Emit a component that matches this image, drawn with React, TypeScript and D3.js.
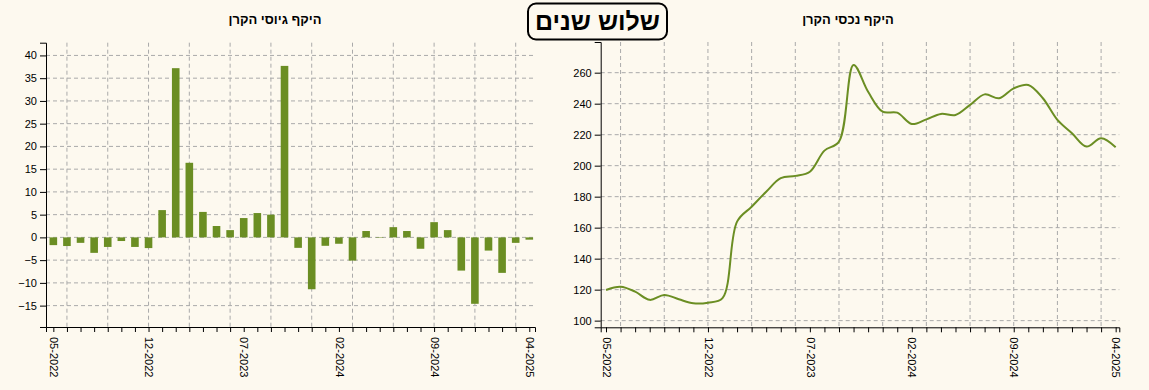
import React, { useEffect, useRef } from "react";
import * as d3 from "d3";

// months shown on both charts (05-2022 .. 04-2025)
const months = [
  "05-2022", "06-2022", "07-2022", "08-2022", "09-2022", "10-2022", "11-2022", "12-2022",
  "01-2023", "02-2023", "03-2023", "04-2023", "05-2023", "06-2023", "07-2023", "08-2023",
  "09-2023", "10-2023", "11-2023", "12-2023", "01-2024", "02-2024", "03-2024", "04-2024",
  "05-2024", "06-2024", "07-2024", "08-2024", "09-2024", "10-2024", "11-2024", "12-2024",
  "01-2025", "02-2025", "03-2025", "04-2025",
];

// fund raising (left, bars)
const raising = [
  -1.7, -1.9, -1.2, -3.4, -2.1, -0.8, -2.1, -2.35,
  6.0, 37.2, 16.4, 5.6, 2.5, 1.6, 4.25, 5.35,
  5.0, 37.7, -2.3, -11.4, -1.85, -1.4, -5.1, 1.4,
  -0.1, 2.25, 1.4, -2.5, 3.35, 1.6, -7.3, -14.6,
  -2.9, -7.8, -1.2, -0.5,
];

// fund assets (right, line)
const assets = [
  119.8, 121.9, 118.7, 113.4, 116.6, 113.8, 111.2, 111.6,
  114.5, 163.9, 173.5, 183.2, 191.9, 193.4, 196.1, 209.7,
  215.5, 265.0, 247.7, 234.8, 234.2, 226.9, 229.9, 233.4,
  232.7, 239.2, 246.0, 243.5, 249.9, 252.1, 243.5, 229.5,
  220.9, 212.3, 217.7, 211.9,
];

const BG = "#fdf9ef";
const GREEN = "#6b8e23";
const GRID = "#aaa";
const FONT = "'Liberation Sans', Arial, sans-serif";

function drawFrame(
  g: d3.Selection<SVGGElement, unknown, null, undefined>,
  x: d3.ScaleLinear<number, number>,
  y: d3.ScaleLinear<number, number>,
  width: number,
  height: number
) {
  const idx = months.map((_, i) => i);

  // grid
  g.append("g")
    .selectAll("line")
    .data(y.ticks(10))
    .enter()
    .append("line")
    .attr("x1", 0)
    .attr("x2", width)
    .attr("y1", d => y(d))
    .attr("y2", d => y(d))
    .attr("stroke", GRID)
    .attr("stroke-dasharray", "4,3");

  g.append("g")
    .selectAll("line")
    .data(idx.filter(i => i % 3 === 1))
    .enter()
    .append("line")
    .attr("x1", d => x(d))
    .attr("x2", d => x(d))
    .attr("y1", 0)
    .attr("y2", height)
    .attr("stroke", GRID)
    .attr("stroke-dasharray", "4,3");

  // axes
  const yAxis = g.append("g").call(d3.axisLeft(y).ticks(10));
  yAxis.selectAll("text").style("font-size", "11px").style("font-family", FONT);

  const xAxis = g
    .append("g")
    .attr("transform", `translate(0,${height})`)
    .call(
      d3
        .axisBottom(x)
        .tickValues(idx)
        .tickSize(5)
        .tickFormat(d => ((d as number) % 7 === 0 ? months[d as number] : ""))
    );
  xAxis
    .selectAll("text")
    .style("font-size", "11px")
    .style("font-family", FONT)
    .attr("text-anchor", "start")
    .attr("transform", "rotate(90)")
    .attr("x", 10)
    .attr("y", 0)
    .attr("dy", "0.35em");

  g.selectAll(".domain, .tick line").attr("stroke", "#000");
}

export default function App() {
  const svgRef = useRef<SVGSVGElement>(null);

  useEffect(() => {
    document.body.style.margin = "0";
    document.body.style.background = BG;

    const svg = d3.select(svgRef.current);
    svg.selectAll("*").remove();

    // ---------- left: bars ----------
    const lm = { left: 46, top: 42.7, right: 535, bottom: 327 };
    const lw = lm.right - lm.left;
    const lh = lm.bottom - lm.top;
    const gl = svg.append("g").attr("transform", `translate(${lm.left},${lm.top})`);
    const xl = d3.scaleLinear().domain([-0.54, 35.42]).range([0, lw]);
    const yl = d3.scaleLinear().domain([-19.7, 42.8]).range([lh, 0]);

    drawFrame(gl, xl, yl, lw, lh);

    const bw = 7.6;
    gl.append("g")
      .selectAll("rect")
      .data(raising)
      .enter()
      .append("rect")
      .attr("x", (_, i) => xl(i) - bw / 2)
      .attr("width", bw)
      .attr("y", d => yl(Math.max(0, d)))
      .attr("height", d => Math.abs(yl(d) - yl(0)))
      .attr("fill", GREEN);

    svg.append("text")
      .attr("x", 275)
      .attr("y", 24)
      .attr("text-anchor", "middle")
      .style("font-family", FONT)
      .style("font-weight", "bold")
      .style("font-size", "13px")
      .text("היקף גיוסי הקרן");

    // ---------- right: line ----------
    const rm = { left: 600.7, top: 42, right: 1119.3, bottom: 327.3 };
    const rw = rm.right - rm.left;
    const rh = rm.bottom - rm.top;
    const gr = svg.append("g").attr("transform", `translate(${rm.left},${rm.top})`);
    const xr = d3.scaleLinear().domain([-0.365, 35.25]).range([0, rw]);
    const yr = d3.scaleLinear().domain([95.7, 279.8]).range([rh, 0]);

    drawFrame(gr, xr, yr, rw, rh);

    const line = d3
      .line<number>()
      .x((_, i) => xr(i))
      .y(d => yr(d))
      .curve(d3.curveCatmullRom);

    gr.append("path")
      .datum(assets)
      .attr("d", line)
      .attr("fill", "none")
      .attr("stroke", GREEN)
      .attr("stroke-width", 2);

    svg.append("text")
      .attr("x", 848)
      .attr("y", 24)
      .attr("text-anchor", "middle")
      .style("font-family", FONT)
      .style("font-weight", "bold")
      .style("font-size", "13px")
      .text("היקף נכסי הקרן");

    // ---------- center title ----------
    svg.append("rect")
      .attr("x", 528)
      .attr("y", 3.5)
      .attr("width", 139)
      .attr("height", 36)
      .attr("rx", 8)
      .attr("fill", BG)
      .attr("stroke", "#000")
      .attr("stroke-width", 2);

    svg.append("text")
      .attr("x", 597.5)
      .attr("y", 30)
      .attr("text-anchor", "middle")
      .style("font-family", FONT)
      .style("font-weight", "bold")
      .style("font-size", "25px")
      .text("שלוש שנים");
  }, []);

  return (
    <div style={{ position: "absolute", left: 0, top: 0, width: 1149, height: 390, background: BG }}>
      <svg ref={svgRef} width={1149} height={390}></svg>
    </div>
  );
}
